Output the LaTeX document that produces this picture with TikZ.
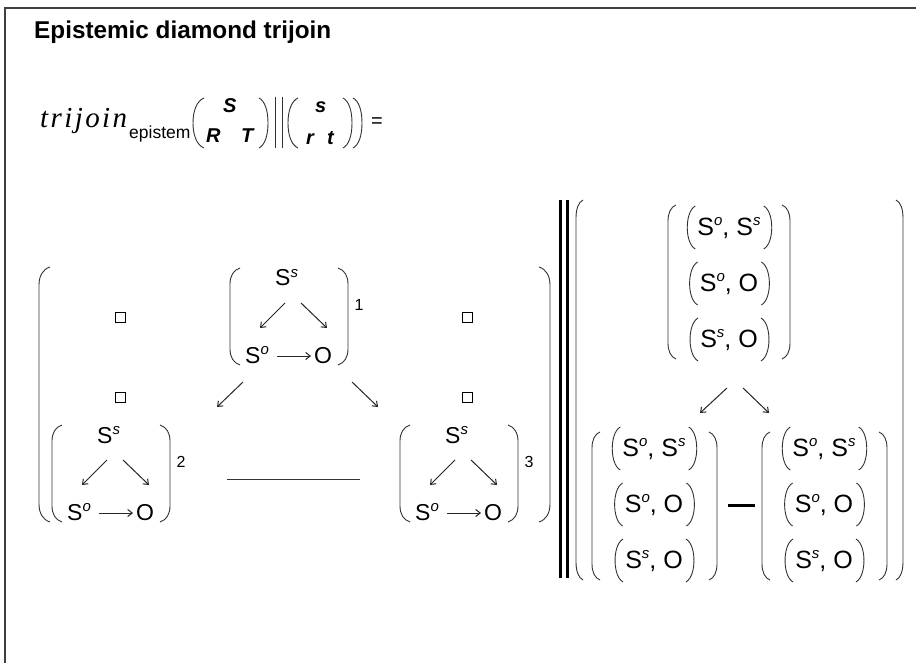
\documentclass[tikz,border=0pt]{standalone}
\usepackage{fontspec}
\setmainfont{Liberation Sans}
\newfontfamily\tnr{Liberation Serif}
\usetikzlibrary{arrows.meta}

\tikzset{
  pl/.style={line width=0.9pt, black!80},
  arr/.style={line width=1pt, black!85, -{Straight Barb[length=4.5pt,width=7pt]}},
  dtxt/.style={inner sep=0pt, anchor=base west, font=\fontsize{23}{23}\selectfont},
  rtxt/.style={inner sep=0pt, anchor=base, font=\fontsize{25}{25}\selectfont},
  ftxt/.style={inner sep=0pt, anchor=base west, font=\bfseries\itshape\fontsize{20}{20}\selectfont},
  idx/.style={inner sep=0pt, font=\fontsize{16}{16}\selectfont},
  smallbox/.style={draw, line width=1.1pt, minimum size=10pt, inner sep=0pt},
}

\newcommand\lsp{\kern2.4pt}
\newcommand\sups[1]{\raisebox{9pt}{\fontsize{15}{15}\selectfont\itshape #1}}
\newcommand\rsups[1]{\raisebox{10pt}{\fontsize{15}{15}\selectfont\itshape #1}}
% left paren: x(belly), top, bottom, width, curve length
\newcommand\LPar[5]{\draw[pl] ({#1+#4},{#2}) .. controls ({#1+0.35*#4},{#2+0.12*#5}) and ({#1},{#2+0.5*#5}) .. ({#1},{#2+#5}) -- ({#1},{#3-#5}) .. controls ({#1},{#3-0.5*#5}) and ({#1+0.35*#4},{#3-0.12*#5}) .. ({#1+#4},{#3});}
\newcommand\RPar[5]{\draw[pl] ({#1-#4},{#2}) .. controls ({#1-0.35*#4},{#2+0.12*#5}) and ({#1},{#2+0.5*#5}) .. ({#1},{#2+#5}) -- ({#1},{#3-#5}) .. controls ({#1},{#3-0.5*#5}) and ({#1-0.35*#4},{#3-0.12*#5}) .. ({#1-#4},{#3});}
% parens around a row node (row height 43, centre 8 above baseline)
\newcommand\rowpar[1]{%
  \draw[pl] ([shift={(-2,-29.5)}]#1.base west) .. controls ([shift={(-8,-26)}]#1.base west) and ([shift={(-10,-16)}]#1.base west) .. ([shift={(-10,-8)}]#1.base west) .. controls ([shift={(-10,0)}]#1.base west) and ([shift={(-8,10)}]#1.base west) .. ([shift={(-2,13.5)}]#1.base west);
  \draw[pl] ([shift={(3,-29.5)}]#1.base east) .. controls ([shift={(9,-26)}]#1.base east) and ([shift={(11,-16)}]#1.base east) .. ([shift={(11,-8)}]#1.base east) .. controls ([shift={(11,0)}]#1.base east) and ([shift={(9,10)}]#1.base east) .. ([shift={(3,13.5)}]#1.base east);}
% diamond matrix: left x, top y, index, name
\newcommand\DMat[4]{%
  \begin{scope}[shift={(#1,#2)}]
    \LPar{0}{0}{97}{10}{16}
    \RPar{118}{0}{97}{10}{16}
    \node[dtxt] (#4ss) at (45,18) {S\sups{s}};
    \node[dtxt] (#4so) at (15,95) {S\sups{o}};
    \node[dtxt] (#4o) at (84,95) {O};
    \coordinate (#4a) at (55,35); \coordinate (#4b) at (30,60);
    \coordinate (#4c) at (71,35); \coordinate (#4d) at (97,60);
    \coordinate (#4e) at (47,88); \coordinate (#4f) at (81,88);
    \draw[arr] (#4a) -- (#4b);
    \draw[arr] (#4c) -- (#4d);
    \draw[arr] (#4e) -- (#4f);
    \node[idx] (#4i) at (129,37) {#3};
  \end{scope}}
% pair matrix: centre x, top row centre y, name
\newcommand\PMat[3]{%
  \node[rtxt] (#3r1) at (#1,{#2+8}) {S\rsups{o}, S\rsups{s}};
  \node[rtxt] (#3r2) at (#1,{#2+64}) {S\rsups{o}, O};
  \node[rtxt] (#3r3) at (#1,{#2+120}) {S\rsups{s}, O};
  \rowpar{#3r1}\rowpar{#3r2}\rowpar{#3r3}}

\begin{document}
\begin{tikzpicture}[x=1pt,y=-1pt]
\useasboundingbox (0,0) rectangle (916,663);
\fill[white] (0,0) rectangle (916,663);
% frame
\draw[line width=1.3pt, black!75] (5,663) -- (5,8) -- (916,8);

% title
\node[inner sep=0pt, anchor=base west, font=\bfseries\fontsize{24.3}{24.3}\selectfont] (title) at (34,39) {Epistemic diamond trijoin};

% formula
\node[inner sep=0pt, anchor=base west, font=\tnr\itshape\fontsize{29}{29}\selectfont] (fn) at (40,128) {t\lsp r\lsp i\lsp j\lsp o\lsp i\lsp n};
\node[inner sep=0pt, anchor=base west, font=\fontsize{17.5}{17.5}\selectfont] (sub) at (129,139) {epistem};
\LPar{193}{98}{148}{11}{25}
\node[ftxt] (fS) at (223,113) {S};
\node[ftxt] (fR) at (206,143) {R};
\node[ftxt] (fT) at (241,143) {T};
\RPar{268}{98}{148}{9}{25}
\draw[pl] (275,97) -- (275,148);
\draw[pl] (282,97) -- (282,148);
\LPar{288}{98}{148}{10}{25}
\node[ftxt] (fs) at (315,113) {s};
\node[ftxt] (fr) at (306,145) {r};
\node[ftxt] (ft) at (327,145) {t};
\RPar{352}{98}{148}{9}{25}
\RPar{362}{98}{148}{9}{25}
\node[inner sep=0pt, anchor=base west, font=\fontsize{20}{20}\selectfont] (eq) at (371,128) {=};

% left group
\LPar{39}{267}{522}{11}{18}
\RPar{550}{267}{522}{11}{18}
\node[smallbox] (b1) at (120.5,317.5) {};
\node[smallbox] (b2) at (120.5,397.5) {};
\node[smallbox] (b3) at (467.5,317.5) {};
\node[smallbox] (b4) at (467.5,397.5) {};
\DMat{230}{268}{1}{m1}
\DMat{52}{425}{2}{m2}
\DMat{400}{425}{3}{m3}
\coordinate (la) at (243,382); \coordinate (lb) at (217,407);
\coordinate (lc) at (352,382); \coordinate (ld) at (378,407);
\draw[arr] (la) -- (lb);
\draw[arr] (lc) -- (ld);
\coordinate (h1) at (227,479); \coordinate (h2) at (360,479);
\draw[pl] (h1) -- (h2);

% double bar
\draw[line width=3pt] (560,200) -- (560,578);
\draw[line width=3pt] (567,200) -- (567,578);

% right group
\LPar{576}{200}{580}{7}{18}
\RPar{903}{200}{580}{7}{18}
\LPar{668}{205}{359}{8}{16}
\RPar{790}{205}{359}{8}{16}
\PMat{729}{227.5}{tm}
\coordinate (ra) at (727,388); \coordinate (rb) at (700,413);
\coordinate (rc) at (743,388); \coordinate (rd) at (769,413);
\draw[arr] (ra) -- (rb);
\draw[arr] (rc) -- (rd);
\LPar{592}{432}{580}{8}{16}
\RPar{717}{432}{580}{8}{16}
\PMat{654}{448.5}{bl}
\LPar{762}{432}{580}{8}{16}
\RPar{887}{432}{580}{8}{16}
\PMat{824}{448.5}{br}
\coordinate (d1) at (728,505); \coordinate (d2) at (755,505);
\draw[line width=3pt] (d1) -- (d2);
\end{tikzpicture}
\end{document}
